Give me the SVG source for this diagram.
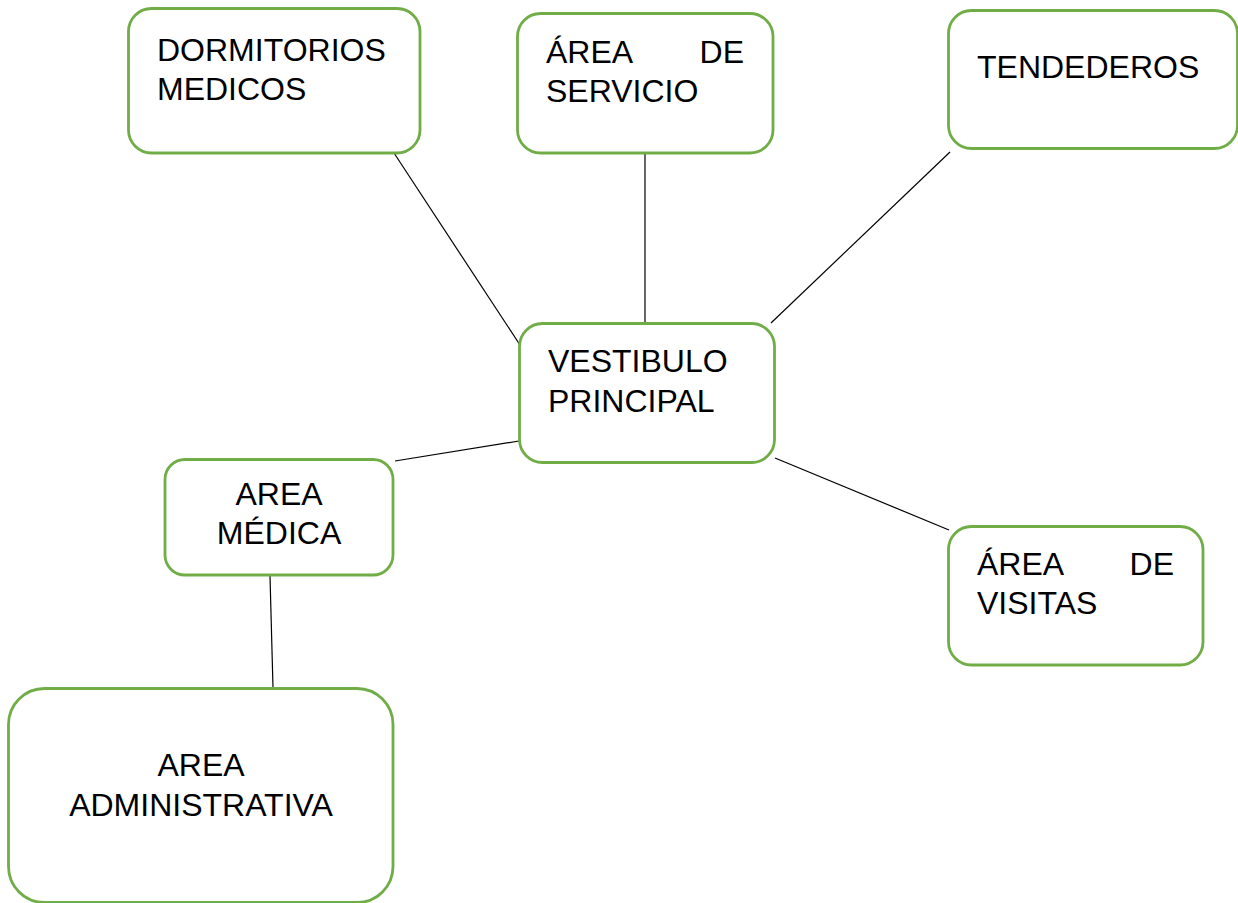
<svg xmlns="http://www.w3.org/2000/svg" width="1238" height="903" viewBox="0 0 1238 903">
<style>
.box{fill:#fff;stroke:#70AD47;stroke-width:2.8}
.t{font-family:"Liberation Sans",Arial,sans-serif;font-size:32px;fill:#000}
.c{text-anchor:middle}
.e{text-anchor:end}
.ln{stroke:#000;stroke-width:1.2;fill:none}
</style>
<rect width="1238" height="903" fill="#fff"/>
<g id="connectors">
<line class="ln" x1="394" y1="153" x2="520" y2="345"/>
<line class="ln" x1="645" y1="153" x2="645" y2="323"/>
<line class="ln" x1="950" y1="152" x2="771" y2="323"/>
<line class="ln" x1="395" y1="461" x2="519" y2="441"/>
<line class="ln" x1="775" y1="458" x2="949" y2="530"/>
<line class="ln" x1="270" y1="576" x2="273" y2="688"/>
</g>
<g id="dormitorios">
<rect class="box" x="128.5" y="8.5" width="291.5" height="144.5" rx="23"/>
<text class="t" x="157" y="61">DORMITORIOS</text>
<text class="t" x="157" y="100">MEDICOS</text>
</g>
<g id="servicio">
<rect class="box" x="517.5" y="13.5" width="255.5" height="139.5" rx="23"/>
<text class="t" x="546" y="63">ÁREA</text>
<text class="t e" x="744" y="63">DE</text>
<text class="t" x="546" y="102">SERVICIO</text>
</g>
<g id="tendederos">
<rect class="box" x="948.5" y="10.5" width="289" height="138" rx="23"/>
<text class="t" x="977" y="78">TENDEDEROS</text>
</g>
<g id="vestibulo">
<rect class="box" x="519.5" y="323.5" width="255" height="139" rx="23"/>
<text class="t" x="548" y="372">VESTIBULO</text>
<text class="t" x="548" y="412">PRINCIPAL</text>
</g>
<g id="medica">
<rect class="box" x="165" y="459.5" width="228" height="115.5" rx="20"/>
<text class="t c" x="279" y="505">AREA</text>
<text class="t c" x="279" y="544">MÉDICA</text>
</g>
<g id="visitas">
<rect class="box" x="948.5" y="526.5" width="254.5" height="138.5" rx="23"/>
<text class="t" x="977" y="575">ÁREA</text>
<text class="t e" x="1174" y="575">DE</text>
<text class="t" x="977" y="614">VISITAS</text>
</g>
<g id="administrativa">
<rect class="box" x="8.5" y="688.5" width="384.5" height="214" rx="36"/>
<text class="t c" x="201" y="776">AREA</text>
<text class="t c" x="201" y="816">ADMINISTRATIVA</text>
</g>
</svg>
